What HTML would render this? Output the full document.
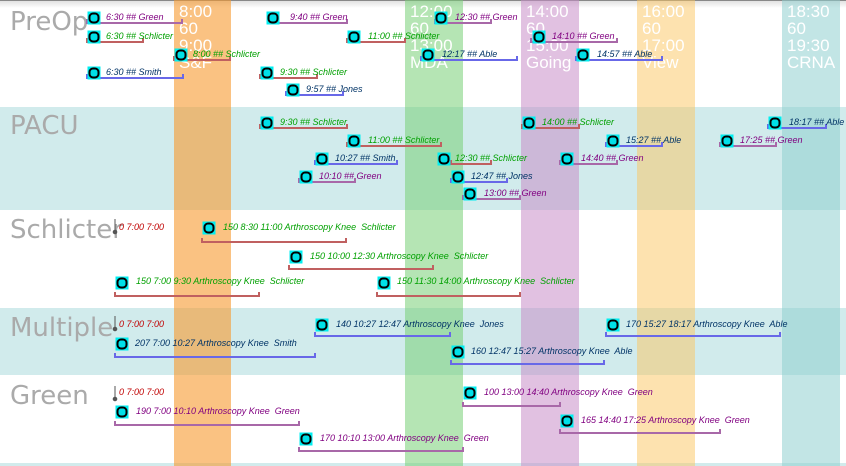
<!DOCTYPE html>
<html><head><meta charset="utf-8"><style>
body{margin:0;width:846px;height:466px;overflow:hidden;background:#fff}
svg{display:block}
.t{font-family:"Liberation Sans",sans-serif;font-style:italic;font-size:9px}
.g{fill:#800080}.s{fill:#00a000}.b{fill:#003366}.r{fill:#c00000}
.h{font-family:"Liberation Sans",sans-serif;font-size:17px;fill:#fff}
.L{font-family:"DejaVu Sans","Liberation Sans",sans-serif;font-size:26px;fill:#aaa}
.pr{stroke:#a868a8}.rd{stroke:#c06060}.bl{stroke:#6868e8}
path{fill:none;stroke-width:2}
</style></head><body>
<svg width="846" height="466" viewBox="0 0 846 466">
<defs>
<linearGradient id="tg" x1="0" y1="0" x2="0" y2="1"><stop offset="0" stop-color="#ddd"/><stop offset="1" stop-color="#fff"/></linearGradient>
<symbol id="ic" viewBox="-7 -7 14 14" overflow="visible"><rect x="-6.5" y="-6.5" width="13" height="13" fill="#00eef0"/><rect x="-4.5" y="-4.5" width="9" height="9" rx="3.5" fill="#00e0e8" stroke="#000" stroke-width="2"/></symbol>
</defs>
<rect x="0" y="0" width="846" height="8" fill="url(#tg)"/>
<rect x="0" y="0" width="846" height="1" fill="#888"/>
<rect x="0" y="107" width="846" height="103" fill="#d1ebec"/>
<rect x="0" y="308" width="846" height="67" fill="#d1ebec"/>
<rect x="0" y="463" width="846" height="3" fill="#d1ebec"/>
<rect x="174" y="0" width="57" height="466" fill="#f79a2e" opacity="0.6"/>
<rect x="405" y="0" width="58" height="466" fill="#79cf77" opacity="0.55"/>
<rect x="521" y="0" width="58" height="466" fill="#c88ec8" opacity="0.55"/>
<rect x="637" y="0" width="58" height="466" fill="#fbc660" opacity="0.5"/>
<rect x="782" y="0" width="58" height="466" fill="#8fcfcf" opacity="0.55"/>
<g class="h">
<text x="179" y="17">8:00</text><text x="179" y="34">60</text><text x="179" y="51">9:00</text><text x="179" y="68">S&amp;F</text>
<text x="410" y="17">12:00</text><text x="410" y="34">60</text><text x="410" y="51">13:00</text><text x="410" y="68">MDA</text>
<text x="526" y="17">14:00</text><text x="526" y="34">60</text><text x="526" y="51">15:00</text><text x="526" y="68">Going</text>
<text x="642" y="17">16:00</text><text x="642" y="34">60</text><text x="642" y="51">17:00</text><text x="642" y="68">View</text>
<text x="787" y="17">18:30</text><text x="787" y="34">60</text><text x="787" y="51">19:30</text><text x="787" y="68">CRNA</text>
</g>
<g class="L"><text x="10" y="30">PreOp</text><text x="10" y="134">PACU</text><text x="10" y="238">Schlicter</text><text x="10" y="336">Multiple</text><text x="10" y="404">Green</text></g>

<path class="pr" d="M87 19V23H182V19"/>
<path class="rd" d="M87 38V42H143V38"/>
<path class="rd" d="M174 56V60H230V56"/>
<path class="bl" d="M87 74V78H183V74"/>
<path class="pr" d="M270 19V23H347V19"/>
<path class="rd" d="M347 38V42H405V38"/>
<path class="rd" d="M260 74V78H317V74"/>
<path class="bl" d="M286 91V95H343V91"/>
<path class="pr" d="M435 19V23H491V19"/>
<path class="bl" d="M421 56V60H517V56"/>
<path class="pr" d="M531 38V42H617V38"/>
<path class="bl" d="M576 56V60H662V56"/>

<path class="rd" d="M260 124V128H347V124"/>
<path class="rd" d="M347 142V146H441V142"/>
<path class="bl" d="M315 160V164H397V160"/>
<path class="pr" d="M299 178V182H355V178"/>
<path class="rd" d="M451 160V164H491V160"/>
<path class="bl" d="M451 178V182H507V178"/>
<path class="pr" d="M463 195V199H520V195"/>
<path class="rd" d="M522 124V128H579V124"/>
<path class="pr" d="M560 160V164H617V160"/>
<path class="bl" d="M606 142V146H662V142"/>
<path class="pr" d="M720 142V146H776V142"/>
<path class="bl" d="M768 124V128H826V124"/>

<path class="rd" d="M202 238V242H346V238"/>
<path class="rd" d="M289 265V269H433V265"/>
<path class="rd" d="M115 292V296H259V292"/>
<path class="rd" d="M377 292V296H520V292"/>
<path class="bl" d="M315 332V336H450V332"/>
<path class="bl" d="M115 353V357H315V353"/>
<path class="bl" d="M451 360V364H604V360"/>
<path class="bl" d="M606 332V336H780V332"/>
<path class="pr" d="M115 421V425H299V421"/>
<path class="pr" d="M463 402V406H560V402"/>
<path class="pr" d="M560 429V433H720V429"/>
<path class="pr" d="M299 447V451H463V447"/>

<g fill="#555" stroke="#555"><line x1="115" y1="219" x2="115" y2="230" stroke-width="1"/><circle cx="115" cy="232" r="1.8"/>
<line x1="115" y1="316" x2="115" y2="327" stroke-width="1"/><circle cx="115" cy="329" r="1.8"/>
<line x1="115" y1="386" x2="115" y2="397" stroke-width="1"/><circle cx="115" cy="399" r="1.8"/></g>

<g>
<use href="#ic" x="87" y="11" width="14" height="14"/>
<use href="#ic" x="87" y="30" width="14" height="14"/>
<use href="#ic" x="174" y="48" width="14" height="14"/>
<use href="#ic" x="87" y="66" width="14" height="14"/>
<use href="#ic" x="266" y="11" width="14" height="14"/>
<use href="#ic" x="347" y="30" width="14" height="14"/>
<use href="#ic" x="260" y="66" width="14" height="14"/>
<use href="#ic" x="286" y="83" width="14" height="14"/>
<use href="#ic" x="434" y="11" width="14" height="14"/>
<use href="#ic" x="421" y="48" width="14" height="14"/>
<use href="#ic" x="532" y="30" width="14" height="14"/>
<use href="#ic" x="576" y="48" width="14" height="14"/>
<use href="#ic" x="260" y="116" width="14" height="14"/>
<use href="#ic" x="347" y="134" width="14" height="14"/>
<use href="#ic" x="315" y="152" width="14" height="14"/>
<use href="#ic" x="299" y="170" width="14" height="14"/>
<use href="#ic" x="437" y="152" width="14" height="14"/>
<use href="#ic" x="451" y="170" width="14" height="14"/>
<use href="#ic" x="463" y="187" width="14" height="14"/>
<use href="#ic" x="522" y="116" width="14" height="14"/>
<use href="#ic" x="560" y="152" width="14" height="14"/>
<use href="#ic" x="606" y="134" width="14" height="14"/>
<use href="#ic" x="720" y="134" width="14" height="14"/>
<use href="#ic" x="768" y="116" width="14" height="14"/>
<use href="#ic" x="202" y="221" width="14" height="14"/>
<use href="#ic" x="289" y="250" width="14" height="14"/>
<use href="#ic" x="115" y="276" width="14" height="14"/>
<use href="#ic" x="377" y="276" width="14" height="14"/>
<use href="#ic" x="315" y="318" width="14" height="14"/>
<use href="#ic" x="115" y="337" width="14" height="14"/>
<use href="#ic" x="451" y="345" width="14" height="14"/>
<use href="#ic" x="606" y="318" width="14" height="14"/>
<use href="#ic" x="115" y="405" width="14" height="14"/>
<use href="#ic" x="463" y="386" width="14" height="14"/>
<use href="#ic" x="560" y="414" width="14" height="14"/>
<use href="#ic" x="299" y="432" width="14" height="14"/>
</g>

<g class="t">
<text class="g" x="106" y="20">6:30 ## Green</text>
<text class="s" x="106" y="39">6:30 ## Schlicter</text>
<text class="s" x="193" y="57">8:00 ## Schlicter</text>
<text class="b" x="106" y="75">6:30 ## Smith</text>
<text class="g" x="290" y="20">9:40 ## Green</text>
<text class="s" x="368" y="39">11:00 ## Schlicter</text>
<text class="s" x="280" y="75">9:30 ## Schlicter</text>
<text class="b" x="306" y="92">9:57 ## Jones</text>
<text class="g" x="455" y="20">12:30 ## Green</text>
<text class="b" x="442" y="57">12:17 ## Able</text>
<text class="g" x="552" y="39">14:10 ## Green</text>
<text class="b" x="597" y="57">14:57 ## Able</text>
<text class="s" x="280" y="125">9:30 ## Schlicter</text>
<text class="s" x="368" y="143">11:00 ## Schlicter</text>
<text class="b" x="335" y="161">10:27 ## Smith</text>
<text class="g" x="319" y="179">10:10 ## Green</text>
<text class="s" x="455" y="161">12:30 ## Schlicter</text>
<text class="b" x="471" y="179">12:47 ## Jones</text>
<text class="g" x="484" y="196">13:00 ## Green</text>
<text class="s" x="542" y="125">14:00 ## Schlicter</text>
<text class="g" x="581" y="161">14:40 ## Green</text>
<text class="b" x="626" y="143">15:27 ## Able</text>
<text class="g" x="740" y="143">17:25 ## Green</text>
<text class="b" x="789" y="125">18:17 ## Able</text>
<text class="r" x="119" y="230">0 7:00 7:00</text>
<text class="s" x="223" y="230">150 8:30 11:00 Arthroscopy Knee&#160; Schlicter</text>
<text class="s" x="310" y="259">150 10:00 12:30 Arthroscopy Knee&#160; Schlicter</text>
<text class="s" x="136" y="284">150 7:00 9:30 Arthroscopy Knee&#160; Schlicter</text>
<text class="s" x="397" y="284">150 11:30 14:00 Arthroscopy Knee&#160; Schlicter</text>
<text class="r" x="119" y="327">0 7:00 7:00</text>
<text class="b" x="336" y="327">140 10:27 12:47 Arthroscopy Knee&#160; Jones</text>
<text class="b" x="135" y="346">207 7:00 10:27 Arthroscopy Knee&#160; Smith</text>
<text class="b" x="471" y="354">160 12:47 15:27 Arthroscopy Knee&#160; Able</text>
<text class="b" x="626" y="327">170 15:27 18:17 Arthroscopy Knee&#160; Able</text>
<text class="r" x="119" y="395">0 7:00 7:00</text>
<text class="g" x="136" y="414">190 7:00 10:10 Arthroscopy Knee&#160; Green</text>
<text class="g" x="484" y="395">100 13:00 14:40 Arthroscopy Knee&#160; Green</text>
<text class="g" x="581" y="423">165 14:40 17:25 Arthroscopy Knee&#160; Green</text>
<text class="g" x="320" y="441">170 10:10 13:00 Arthroscopy Knee&#160; Green</text>
</g>
</svg>
</body></html>
